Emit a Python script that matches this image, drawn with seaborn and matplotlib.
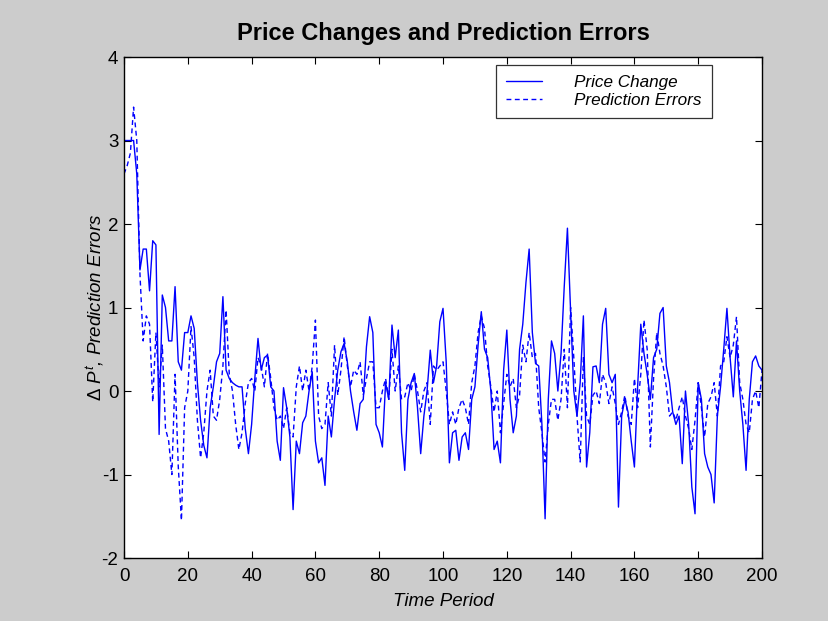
import numpy as np
import pandas as pd
import matplotlib
matplotlib.use("Agg")
import matplotlib.pyplot as plt
import seaborn as sns

# Time axis and the two series
periods = list(range(0, 201))

price_change = [
    3.0, 3.0, 3.0, 3.0, 2.6, 1.45, 1.7, 1.7, 1.2, 1.8,
    1.75, -0.52, 1.15, 1.0, 0.6, 0.6, 1.25, 0.35, 0.25, 0.7,
    0.7, 0.9, 0.75, 0.1, -0.35, -0.65, -0.8, -0.2, 0.05, 0.35,
    0.45, 1.13, 0.25, 0.15, 0.1, 0.07, 0.05, 0.05, -0.45, -0.75,
    -0.4, 0.15, 0.63, 0.25, 0.4, 0.43, 0.05, 0.0, -0.6, -0.83,
    0.04, -0.2, -0.55, -1.42, -0.6, -0.75, -0.38, -0.3, 0.0, 0.23,
    -0.6, -0.86, -0.8, -1.13, -0.3, -0.55, -0.1, 0.25, 0.47, 0.57,
    0.35, 0.0, -0.25, -0.47, -0.15, -0.1, 0.53, 0.89, 0.7, -0.4,
    -0.5, -0.67, 0.1, -0.1, 0.79, 0.4, 0.73, -0.5, -0.95, -0.1,
    0.1, 0.21, -0.2, -0.75, -0.3, 0.0, 0.49, 0.1, 0.3, 0.83,
    0.99, 0.35, -0.86, -0.5, -0.47, -0.83, -0.55, -0.5, -0.7, -0.1,
    0.05, 0.55, 0.95, 0.5, 0.4, 0.0, -0.7, -0.6, -0.86, 0.25,
    0.73, -0.1, -0.5, -0.3, 0.5, 0.8, 1.3, 1.7, 0.7, 0.33,
    0.3, -0.4, -1.53, -0.1, 0.6, 0.45, 0.0, 0.45, 1.25, 1.95,
    0.95, 0.0, -0.3, 0.1, 0.9, -0.91, -0.5, 0.29, 0.3, 0.1,
    0.8, 0.99, 0.2, 0.1, 0.2, -1.39, -0.3, -0.1, -0.25, -0.6,
    -0.91, 0.05, 0.8, 0.45, 0.2, -0.1, 0.4, 0.5, 0.93, 1.0,
    0.3, 0.1, -0.25, -0.4, -0.3, -0.87, 0.0, -0.4, -1.15, -1.47,
    0.1, -0.1, -0.75, -0.91, -1.0, -1.34, -0.3, 0.05, 0.5, 0.99,
    0.4, -0.07, 0.6, 0.0, -0.4, -0.95, -0.1, 0.35, 0.42, 0.3,
    0.25,
]

prediction_errors = [
    2.6, 2.7, 2.85, 3.4, 3.0, 1.4, 0.6, 0.9, 0.8, -0.13,
    0.7, 0.05, 0.55, -0.45, -0.6, -1.0, 0.2, -0.9, -1.55, -0.2,
    0.0, 0.77, 0.4, -0.35, -0.8, -0.5, 0.0, 0.25, -0.3, -0.35,
    -0.1, 0.3, 0.97, 0.2, 0.0, -0.4, -0.7, -0.5, -0.15, 0.1,
    0.15, 0.0, 0.4, 0.3, 0.05, 0.45, 0.15, -0.2, -0.35, -0.3,
    -0.45, -0.2, -0.5, -0.55, 0.05, 0.3, 0.0, 0.25, 0.0, 0.3,
    0.85, -0.3, -0.45, -0.4, 0.1, -0.3, 0.55, -0.05, 0.25, 0.65,
    0.3, 0.05, 0.25, 0.2, 0.35, -0.05, 0.15, 0.35, 0.35, -0.2,
    -0.2, 0.0, 0.15, -0.1, 0.5, 0.0, 0.3, -0.1, -0.07, 0.1,
    0.0, 0.2, 0.0, -0.25, 0.0, 0.1, -0.4, 0.3, 0.25, 0.3,
    0.35, 0.0, -0.4, -0.25, -0.4, -0.2, -0.1, -0.2, -0.4, 0.1,
    0.3, 0.7, 0.9, 0.75, 0.3, 0.05, -0.25, 0.0, -0.5, -0.15,
    0.2, 0.05, 0.15, -0.2, -0.05, 0.55, 0.35, 0.7, 0.4, 0.45,
    -0.2, -0.5, -0.85, -0.4, -0.1, -0.1, -0.35, -0.1, 0.5, -0.2,
    1.0, 0.4, -0.3, -0.85, 0.4, -0.3, -0.4, -0.05, 0.0, -0.15,
    0.2, 0.1, -0.15, 0.05, -0.15, -0.4, -0.25, -0.05, -0.3, -0.4,
    0.15, -0.2, 0.2, 0.85, 0.5, -0.67, 0.15, 0.7, 0.45, 0.3,
    0.05, -0.3, -0.25, -0.35, -0.2, -0.07, -0.3, -0.45, -0.7, -0.35,
    0.1, -0.2, -0.55, -0.15, -0.07, 0.1, -0.3, 0.3, 0.35, 0.65,
    0.4, 0.55, 0.89, 0.1, -0.1, -0.4, -0.5, -0.1, 0.0, -0.2,
    0.25,
]

x_ticks = list(range(0, 201, 20))
y_ticks = list(range(-2, 5))

df = pd.DataFrame({
    "t": periods,
    "Price Change": price_change,
    "Prediction Errors": prediction_errors,
})

sns.set_style("ticks")
plt.rcParams["font.family"] = ["Liberation Sans", "DejaVu Sans"]
plt.rcParams["mathtext.fontset"] = "custom"
plt.rcParams["mathtext.rm"] = "Liberation Sans"
plt.rcParams["mathtext.it"] = "Liberation Sans:italic"
plt.rcParams["axes.unicode_minus"] = False
plt.rcParams["text.color"] = "black"
plt.rcParams["axes.labelcolor"] = "black"

fig = plt.figure(figsize=(8.29, 6.21), dpi=100, facecolor="#cccccc")
ax = fig.add_axes([0.1496, 0.1014, 0.7696, 0.8068])
ax.set_facecolor("white")

sns.lineplot(data=df, x="t", y="Price Change", ax=ax, color="#0000ff",
             linewidth=1.0, label="Price Change")
sns.lineplot(data=df, x="t", y="Prediction Errors", ax=ax, color="#0000ff",
             linewidth=1.0, label="Prediction Errors", dashes=False)
ax.lines[1].set_linestyle((0, (3.5, 2.5)))

ax.set_xlim(0, 200)
ax.set_ylim(-2, 4)
ax.set_xticks(x_ticks)
ax.set_yticks(y_ticks)
ax.tick_params(direction="in", length=5, width=0.8, top=True, right=True,
               labelsize=13.5, colors="black", pad=4)
ax.tick_params(axis="x", pad=7)
for side in ["top", "bottom", "left", "right"]:
    ax.spines[side].set_visible(True)
    ax.spines[side].set_color("black")
    ax.spines[side].set_linewidth(1.0)

ax.set_title("Price Changes and Prediction Errors", fontsize=17,
             fontweight="bold", pad=12, color="black")
ax.set_xlabel("Time Period", fontsize=13.5, style="italic", labelpad=6)
ax.set_ylabel(r"$\Delta\ P^t$, Prediction Errors", fontsize=13.5,
              style="italic", labelpad=-3)

leg = ax.legend(loc="upper right", bbox_to_anchor=(0.9216, 0.984),
                frameon=True, fancybox=False, edgecolor="black",
                fontsize=12.3, handlelength=2.1, borderpad=0.6,
                labelspacing=0.15, handletextpad=1.9, borderaxespad=0.0)
leg.get_frame().set_linewidth(0.9)
for txt in leg.get_texts():
    txt.set_style("italic")

fig.savefig("out.png", dpi=100, facecolor=fig.get_facecolor())
